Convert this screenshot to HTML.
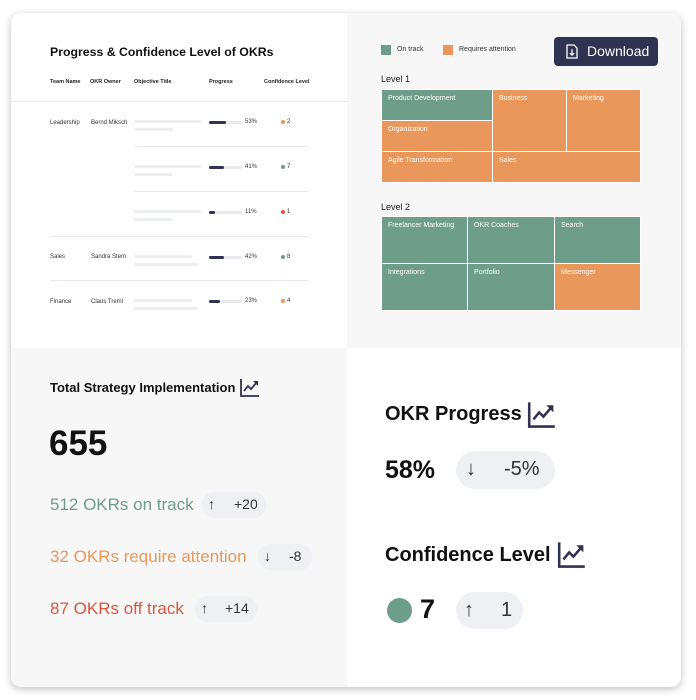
<!DOCTYPE html>
<html><head><meta charset="utf-8"><style>
*{margin:0;padding:0;box-sizing:border-box}
body{width:696px;height:700px;background:#fff;font-family:"Liberation Sans",sans-serif;position:relative;overflow:hidden;color:#111}
.card{position:absolute;left:11px;top:13px;width:670px;height:674px;border-radius:10px;overflow:hidden;box-shadow:0 2px 8px rgba(0,0,0,.25);background:#fff}
.a{position:absolute;white-space:nowrap}
.q{position:absolute}
.hd{font-size:5.5px;font-weight:bold;color:#222}
.tx{font-size:6px;color:#333}
.ln{position:absolute;height:1px;background:#e6e8ef}
.ob{position:absolute;height:3px;background:#eceef3;border-radius:2px}
.pb{position:absolute;height:3px;width:33px;background:#e8eaf0;border-radius:2px}
.pb i{position:absolute;left:0;top:0;height:3px;background:#2f3250;border-radius:2px}
.dot{position:absolute;width:4px;height:4px;border-radius:50%}
.t{position:absolute;color:#fff;font-size:7px;padding:5px 6px;border:1px solid #fff}
.g{background:#6e9e89}.o{background:#e9975a}
.pill{position:absolute;background:#eef0f4;border-radius:12px;color:#333}
</style></head><body>
<div class="card">
<div class="q" style="left:0;top:0;width:336px;height:335px;background:#fff"></div>
<div class="q" style="left:336px;top:0;width:334px;height:335px;background:#f7f7f8"></div>
<div class="q" style="left:0;top:335px;width:336px;height:339px;background:#f7f7f8"></div>
<div class="q" style="left:336px;top:335px;width:334px;height:339px;background:#fff"></div>
</div>
<!-- table -->
<div class="a" style="left:50px;top:45px;font-size:12.3px;font-weight:bold">Progress &amp; Confidence Level of OKRs</div>
<div class="a hd" style="left:50px;top:79px">Team Name</div>
<div class="a hd" style="left:90px;top:79px">OKR Owner</div>
<div class="a hd" style="left:134px;top:79px">Objective Title</div>
<div class="a hd" style="left:209px;top:79px">Progress</div>
<div class="a hd" style="left:264px;top:79px">Confidence Level</div>
<div class="ln" style="left:11px;top:101px;width:336px"></div>
<div class="a tx" style="left:50px;top:120px">Leadership</div>
<div class="a tx" style="left:91px;top:120px">Bernd Miksch</div>
<div class="a tx" style="left:50px;top:254px">Sales</div>
<div class="a tx" style="left:91px;top:254px">Sandra Stern</div>
<div class="a tx" style="left:50px;top:299px">Finance</div>
<div class="a tx" style="left:91px;top:299px">Claus Treml</div>
<div class="ln" style="left:134px;top:146px;width:174px"></div>
<div class="ln" style="left:134px;top:191px;width:174px"></div>
<div class="ln" style="left:50px;top:236px;width:258px"></div>
<div class="ln" style="left:50px;top:280px;width:258px"></div>
<div class="ob" style="left:134px;top:120px;width:67px"></div><div class="ob" style="left:134px;top:128px;width:39px"></div>
<div class="ob" style="left:134px;top:165px;width:67px"></div><div class="ob" style="left:134px;top:173px;width:39px"></div>
<div class="ob" style="left:134px;top:210px;width:67px"></div><div class="ob" style="left:134px;top:218px;width:39px"></div>
<div class="ob" style="left:134px;top:255px;width:58px"></div><div class="ob" style="left:134px;top:263px;width:64px"></div>
<div class="ob" style="left:134px;top:299px;width:58px"></div><div class="ob" style="left:134px;top:307px;width:64px"></div>
<div class="pb" style="left:209px;top:121px"><i style="width:17px"></i></div><div class="a tx" style="left:245px;top:119px">53%</div>
<div class="pb" style="left:209px;top:166px"><i style="width:15px"></i></div><div class="a tx" style="left:245px;top:164px">41%</div>
<div class="pb" style="left:209px;top:211px"><i style="width:6px"></i></div><div class="a tx" style="left:245px;top:209px">11%</div>
<div class="pb" style="left:209px;top:256px"><i style="width:15px"></i></div><div class="a tx" style="left:245px;top:254px">42%</div>
<div class="pb" style="left:209px;top:300px"><i style="width:11px"></i></div><div class="a tx" style="left:245px;top:298px">23%</div>
<div class="dot o" style="left:281px;top:120px"></div><div class="a tx" style="left:287px;top:119px">2</div>
<div class="dot g" style="left:281px;top:165px"></div><div class="a tx" style="left:287px;top:164px">7</div>
<div class="dot" style="left:281px;top:210px;background:#d9573f"></div><div class="a tx" style="left:287px;top:209px">1</div>
<div class="dot g" style="left:281px;top:255px"></div><div class="a tx" style="left:287px;top:254px">8</div>
<div class="dot o" style="left:281px;top:299px"></div><div class="a tx" style="left:287px;top:298px">4</div>
<!-- treemap -->
<div class="q g" style="left:381px;top:45px;width:10px;height:10px"></div><div class="a" style="left:397px;top:46px;font-size:7px;color:#333">On track</div>
<div class="q o" style="left:443px;top:45px;width:10px;height:10px"></div><div class="a" style="left:459px;top:46px;font-size:7px;color:#333">Requires attention</div>
<div class="q" style="left:554px;top:37px;width:104px;height:29px;background:#2f3250;border-radius:4px"></div>
<svg class="q" style="left:566px;top:44px" width="12" height="15" viewBox="0 0 12 15"><path d="M1 1h7l3 3v10H1z" fill="none" stroke="#fff" stroke-width="1.3"/><path d="M6 5v6M3.8 9l2.2 2.2L8.2 9" fill="none" stroke="#fff" stroke-width="1.2"/></svg>
<div class="a" style="left:587px;top:43px;font-size:14px;color:#fff">Download</div>
<div class="a" style="left:381px;top:74px;font-size:9px;color:#222">Level 1</div>
<div class="t g" style="left:381px;top:89px;width:112px;height:32px">Product Development</div>
<div class="t o" style="left:381px;top:120px;width:112px;height:32px">Organization</div>
<div class="t o" style="left:381px;top:151px;width:112px;height:32px">Agile Transformation</div>
<div class="t o" style="left:492px;top:89px;width:75px;height:63px">Business</div>
<div class="t o" style="left:566px;top:89px;width:75px;height:63px">Marketing</div>
<div class="t o" style="left:492px;top:151px;width:149px;height:32px">Sales</div>
<div class="a" style="left:381px;top:202px;font-size:9px;color:#222">Level 2</div>
<div class="t g" style="left:381px;top:216px;width:87px;height:48px">Freelancer Marketing</div>
<div class="t g" style="left:467px;top:216px;width:88px;height:48px">OKR Coaches</div>
<div class="t g" style="left:554px;top:216px;width:87px;height:48px">Search</div>
<div class="t g" style="left:381px;top:263px;width:87px;height:48px">Integrations</div>
<div class="t g" style="left:467px;top:263px;width:88px;height:48px">Portfolio</div>
<div class="t o" style="left:554px;top:263px;width:87px;height:48px">Messenger</div>
<!-- bottom left -->
<div class="a" style="left:50px;top:380px;font-size:13px;font-weight:bold">Total Strategy Implementation</div>
<svg class="q" style="left:240px;top:378px" width="20" height="19" viewBox="0 0 20 19"><path d="M1 1v17h18" fill="none" stroke="#2f3250" stroke-width="1.8"/><path d="M4 13l4-5 3 3 6-7" fill="none" stroke="#2f3250" stroke-width="1.8"/><path d="M13 3h5v5z" fill="#2f3250"/></svg>
<div class="a" style="left:49px;top:424px;font-size:35px;font-weight:bold">655</div>
<div class="a" style="left:50px;top:495px;font-size:17px;color:#6e9e89">512 OKRs on track</div>
<div class="pill" style="left:202px;top:492px;width:64px;height:26px"><span class="a" style="left:6px;top:4px;font-size:14px">↑</span><span class="a" style="left:32px;top:4px;font-size:14px">+20</span></div>
<div class="a" style="left:50px;top:547px;font-size:17px;color:#e9975a">32 OKRs require attention</div>
<div class="pill" style="left:258px;top:544px;width:54px;height:26px"><span class="a" style="left:6px;top:4px;font-size:14px">↓</span><span class="a" style="left:31px;top:4px;font-size:14px">-8</span></div>
<div class="a" style="left:50px;top:599px;font-size:17px;color:#d9573f">87 OKRs off track</div>
<div class="pill" style="left:195px;top:596px;width:62px;height:26px"><span class="a" style="left:6px;top:4px;font-size:14px">↑</span><span class="a" style="left:30px;top:4px;font-size:14px">+14</span></div>
<!-- bottom right -->
<div class="a" style="left:385px;top:403px;font-size:20px;font-weight:bold">OKR Progress</div>
<svg class="q" style="left:527px;top:401px" width="30" height="27" viewBox="0 0 20 19"><path d="M1 1v17h18" fill="none" stroke="#2f3250" stroke-width="1.8"/><path d="M4 13l4-5 3 3 6-7" fill="none" stroke="#2f3250" stroke-width="1.8"/><path d="M13 3h5v5z" fill="#2f3250"/></svg>
<div class="a" style="left:385px;top:456px;font-size:25px;font-weight:bold">58%</div>
<div class="pill" style="left:456px;top:451px;width:99px;height:38px;border-radius:19px"><span class="a" style="left:10px;top:7px;font-size:20px">↓</span><span class="a" style="left:48px;top:7px;font-size:20px">-5%</span></div>
<div class="a" style="left:385px;top:544px;font-size:20px;font-weight:bold">Confidence Level</div>
<svg class="q" style="left:557px;top:541px" width="30" height="27" viewBox="0 0 20 19"><path d="M1 1v17h18" fill="none" stroke="#2f3250" stroke-width="1.8"/><path d="M4 13l4-5 3 3 6-7" fill="none" stroke="#2f3250" stroke-width="1.8"/><path d="M13 3h5v5z" fill="#2f3250"/></svg>
<div class="q g" style="left:387px;top:598px;width:25px;height:25px;border-radius:50%"></div>
<div class="a" style="left:420px;top:594px;font-size:27px;font-weight:bold">7</div>
<div class="pill" style="left:456px;top:592px;width:67px;height:37px;border-radius:19px"><span class="a" style="left:8px;top:7px;font-size:20px">↑</span><span class="a" style="left:45px;top:7px;font-size:20px">1</span></div>
</body></html>
